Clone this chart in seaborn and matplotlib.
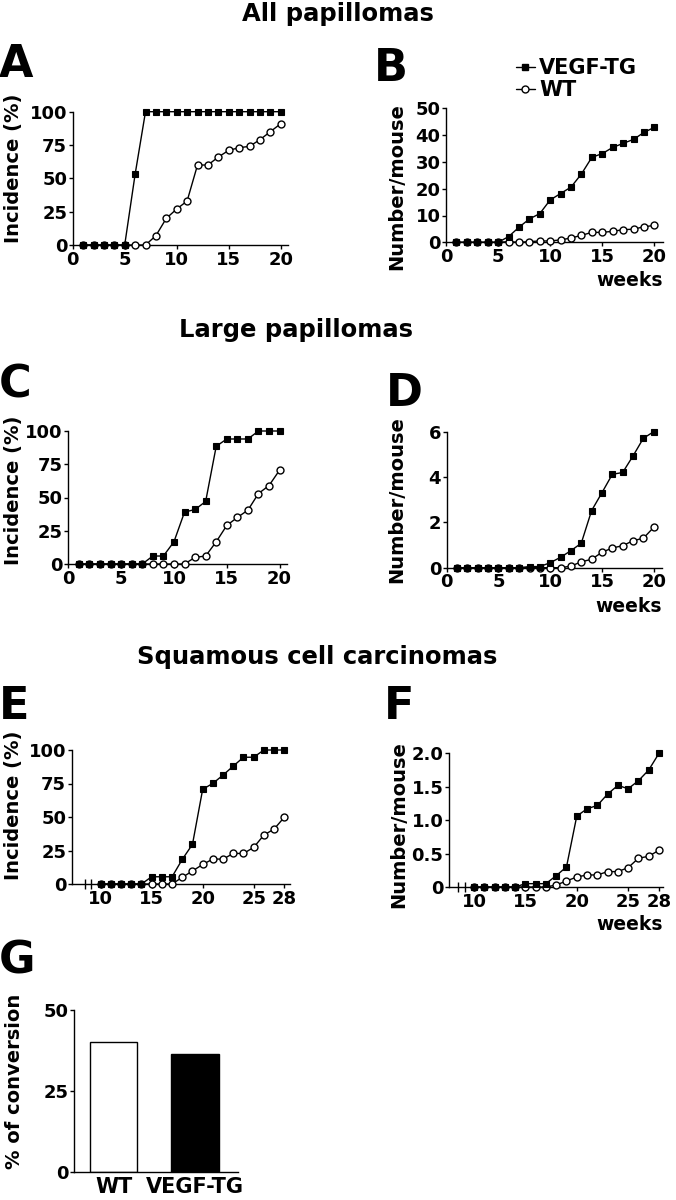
import matplotlib
matplotlib.use("Agg")
import matplotlib.pyplot as plt
import seaborn as sns
import pandas as pd
from matplotlib.lines import Line2D

# ---------------- data ----------------
weeks_20 = list(range(1, 21))
weeks_28 = list(range(10, 29))

a_vegf = [0, 0, 0, 0, 0, 53, 100, 100, 100, 100, 100, 100, 100, 100, 100, 100, 100, 100, 100, 100]
a_wt = [0, 0, 0, 0, 0, 0, 0, 7, 20, 27, 33, 60, 60, 66, 71, 73, 74, 79, 85, 91]

b_vegf = [0, 0, 0, 0, 0, 2.1, 5.6, 8.7, 10.7, 15.8, 18.2, 20.6, 25.5, 31.7, 33.1, 35.4, 36.9, 38.4, 41.0, 42.9]
b_wt = [0, 0, 0, 0, 0, 0.25, 0, 0.25, 0.5, 0.5, 0.9, 1.6, 2.6, 3.7, 3.7, 4.1, 4.7, 4.9, 5.8, 6.3]

c_vegf = [0, 0, 0, 0, 0, 0, 0, 6, 6, 16.7, 39, 41, 47, 88.5, 94, 94, 94, 100, 100, 100]
c_wt = [0, 0, 0, 0, 0, 0, 0, 0, 0, 0, 0, 5, 6, 16.7, 29, 35, 40.5, 53, 59, 70.6]

d_vegf = [0, 0, 0, 0, 0, 0, 0, 0.05, 0.05, 0.22, 0.46, 0.75, 1.08, 2.52, 3.31, 4.12, 4.2, 4.93, 5.71, 6.0]
d_wt = [0, 0, 0, 0, 0, 0, 0, 0, 0, 0, 0, 0.07, 0.26, 0.37, 0.68, 0.87, 0.97, 1.19, 1.3, 1.78]

e_vegf = [0, 0, 0, 0, 0, 5.4, 5.4, 5.4, 18.4, 29.6, 70.7, 75.1, 81.3, 88, 94.6, 94.6, 100, 100, 100]
e_wt = [0, 0, 0, 0, 0, 0, 0, 0, 5, 9.7, 14.6, 18.6, 18.6, 22.8, 22.8, 27.3, 36.5, 41, 49.8]

f_vegf = [0, 0, 0, 0, 0, 0.05, 0.05, 0.05, 0.17, 0.30, 1.06, 1.17, 1.22, 1.39, 1.52, 1.47, 1.59, 1.75, 2.0]
f_wt = [0, 0, 0, 0, 0, 0, 0, 0, 0.03, 0.09, 0.15, 0.18, 0.18, 0.23, 0.23, 0.29, 0.43, 0.46, 0.55]

g_groups = ["WT", "VEGF-TG"]
g_values = [40, 36.3]

section_titles = ["All papillomas", "Large papillomas", "Squamous cell carcinomas"]
ticks_20 = [0, 5, 10, 15, 20]
ticks_28 = [10, 15, 20, 25, 28]

# ---------------- style ----------------
sns.set_style("ticks")
plt.rcParams["font.family"] = ["DejaVu Sans"]
plt.rcParams["font.weight"] = "bold"
plt.rcParams["axes.labelweight"] = "bold"
plt.rcParams["text.color"] = "black"
plt.rcParams["axes.labelcolor"] = "black"
plt.rcParams["xtick.color"] = "black"
plt.rcParams["ytick.color"] = "black"
plt.rcParams["axes.edgecolor"] = "black"

W, H = 676, 1200
fig = plt.figure(figsize=(W / 100, H / 100), dpi=100)


def add_ax(left, right, top, bottom):
    return fig.add_axes([left / W, 1 - bottom / H, (right - left) / W, (bottom - top) / H])


def style_ax(ax, xticks, yticks, xlim, ylim, fs=13):
    ax.set_xlim(*xlim)
    ax.set_ylim(*ylim)
    ax.set_xticks(xticks)
    ax.set_yticks(yticks)
    for s in ["top", "right"]:
        ax.spines[s].set_visible(False)
    for s in ["left", "bottom"]:
        ax.spines[s].set_linewidth(1.0)
        ax.spines[s].set_color("black")
    ax.tick_params(axis="both", direction="out", length=3.2, width=1.0, pad=0.8,
                   labelsize=fs, colors="black", labelcolor="black")
    for lab in ax.get_xticklabels() + ax.get_yticklabels():
        lab.set_fontweight("bold")
    ax.set_xlabel("")
    ax.set_ylabel("")


def draw_lines(ax, x, vegf, wt):
    sns.lineplot(x=x, y=wt, ax=ax, color="black", linewidth=1.0, marker="o",
                 markersize=5, markerfacecolor="white", markeredgecolor="black",
                 markeredgewidth=1.0, clip_on=False, zorder=3, estimator=None)
    sns.lineplot(x=x, y=vegf, ax=ax, color="black", linewidth=1.0, marker="s",
                 markersize=5, markerfacecolor="black", markeredgecolor="black",
                 markeredgewidth=0.8, clip_on=False, zorder=4, estimator=None)


def ylab(ax, text, px, py, left, right, top, bottom, fs=14):
    ax.set_ylabel(text, fontsize=fs, fontweight="bold", va="center", ha="center", color="black")
    ax.yaxis.set_label_coords((px - left) / (right - left), (bottom - py) / (bottom - top))


def weeks_label(x_right, y_center):
    fig.text(x_right / W, 1 - y_center / H, "weeks", ha="right", va="center",
             fontsize=13.5, fontweight="bold", color="black")


def panel_letter(letter, x, y_top):
    fig.text(x / W, 1 - y_top / H, letter, ha="left", va="top", fontsize=32,
             fontweight="bold", color="black")


# ---------------- titles ----------------
fig.text(338 / W, 1 - 14 / H, section_titles[0], ha="center", va="center", fontsize=17.5, fontweight="bold")
fig.text(296 / W, 1 - 330 / H, section_titles[1], ha="center", va="center", fontsize=17.5, fontweight="bold")
fig.text(317 / W, 1 - 657 / H, section_titles[2], ha="center", va="center", fontsize=17.5, fontweight="bold")

# ---------------- A ----------------
L, R, T, B = 72.7, 288, 111.7, 245
axA = add_ax(L, R, T, B)
draw_lines(axA, weeks_20, a_vegf, a_wt)
style_ax(axA, ticks_20, [0, 25, 50, 75, 100], (0, 20.7), (0, 100))
ylab(axA, "Incidence (%)", 14, 168, L, R, T, B)
panel_letter("A", -1, 43)

# ---------------- B ----------------
L, R, T, B = 446, 662.7, 108.3, 242.3
axB = add_ax(L, R, T, B)
draw_lines(axB, weeks_20, b_vegf, b_wt)
style_ax(axB, ticks_20, [0, 10, 20, 30, 40, 50], (0, 20.8), (0, 50))
ylab(axB, "Number/mouse", 397, 187, L, R, T, B)
weeks_label(662.7, 280.5)
panel_letter("B", 374, 47)
handles = [
    Line2D([], [], color="black", lw=1.0, marker="s", markersize=5, mfc="black", mec="black"),
    Line2D([], [], color="black", lw=1.0, marker="o", markersize=5, mfc="white", mec="black"),
]
fig.legend(handles, ["VEGF-TG", "WT"], loc="upper left", bbox_to_anchor=(516 / W, 1 - 58 / H),
           frameon=False, handlelength=0.9, handletextpad=0.2,
           labelspacing=0.1, borderpad=0, borderaxespad=0, labelcolor="black",
           prop={"weight": "bold", "size": 15})

# ---------------- C ----------------
L, R, T, B = 68.3, 287, 431, 564
axC = add_ax(L, R, T, B)
draw_lines(axC, weeks_20, c_vegf, c_wt)
style_ax(axC, ticks_20, [0, 25, 50, 75, 100], (0, 20.7), (0, 100))
ylab(axC, "Incidence (%)", 14, 490, L, R, T, B)
panel_letter("C", -1, 363)

# ---------------- D ----------------
L, R, T, B = 446.7, 662, 431.7, 567.7
axD = add_ax(L, R, T, B)
draw_lines(axD, weeks_20, d_vegf, d_wt)
style_ax(axD, ticks_20, [0, 2, 4, 6], (0, 20.8), (0, 6))
ylab(axD, "Number/mouse", 397, 500, L, R, T, B)
weeks_label(662, 606)
panel_letter("D", 386, 372)

# ---------------- E ----------------
L, R, T, B = 71.7, 290, 750, 884
axE = add_ax(L, R, T, B)
draw_lines(axE, weeks_28, e_vegf, e_wt)
style_ax(axE, ticks_28, [0, 25, 50, 75, 100], (7.16, 28.56), (0, 100))
axE.set_xticks([8.45, 9.1], minor=True)
axE.tick_params(axis="x", which="minor", direction="inout", length=7, width=1.0)
ylab(axE, "Incidence (%)", 14, 805, L, R, T, B)
panel_letter("E", -1, 685)

# ---------------- F ----------------
L, R, T, B = 449, 662.7, 753.3, 887
axF = add_ax(L, R, T, B)
draw_lines(axF, weeks_28, f_vegf, f_wt)
style_ax(axF, ticks_28, [0, 0.5, 1.0, 1.5, 2.0], (7.57, 28.36), (0, 2.0))
axF.set_yticklabels(["0", "0.5", "1.0", "1.5", "2.0"], fontweight="bold")
axF.set_xticks([8.45, 9.1], minor=True)
axF.tick_params(axis="x", which="minor", direction="inout", length=7, width=1.0)
ylab(axF, "Number/mouse", 399, 825, L, R, T, B)
weeks_label(663, 925)
panel_letter("F", 384, 685)

# ---------------- G ----------------
L, R, T, B = 74, 238, 1010, 1171.7
axG = add_ax(L, R, T, B)
dfG = pd.DataFrame({"group": g_groups, "value": g_values})
sns.barplot(data=dfG, x="group", y="value", hue="group", order=g_groups, hue_order=g_groups,
            palette=["white", "black"], edgecolor="black", linewidth=1.0, width=0.58,
            legend=False, ax=axG)
style_ax(axG, [0, 1], [0, 25, 50], (-0.49, 1.53), (0, 50), fs=13)
axG.set_xticks([0, 1])
axG.set_xticklabels(g_groups, fontsize=15, fontweight="bold")
axG.tick_params(axis="x", length=0, pad=4)
ylab(axG, "% of conversion", 15, 1081, L, R, T, B)
panel_letter("G", -1, 940)

fig.savefig("out.png", dpi=100)
